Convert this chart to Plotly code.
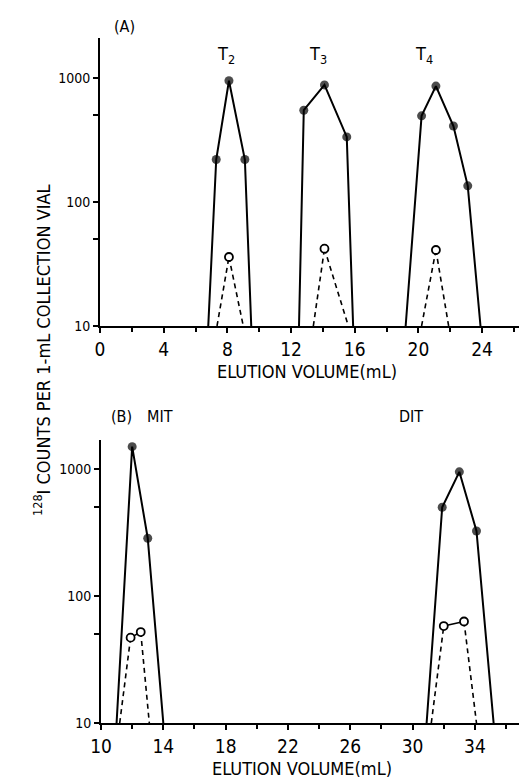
import plotly.graph_objects as go

# ---------------- data ----------------
# Panel A : T2, T3, T4 (filled = total, open = second series)
t2_x = [6.8, 7.3, 8.1, 9.1, 9.5]
t2_y = [10, 220, 950, 220, 10]
t2o_x = [7.35, 8.1, 9.0]
t2o_y = [10, 36, 10]

t3_x = [12.5, 12.8, 14.1, 15.5, 15.9]
t3_y = [10, 550, 880, 335, 10]
t3o_x = [13.4, 14.1, 15.6]
t3o_y = [10, 42, 10]

t4_x = [19.2, 20.2, 21.1, 22.2, 23.1, 23.9]
t4_y = [10, 495, 860, 410, 135, 10]
t4o_x = [20.2, 21.1, 21.9]
t4o_y = [10, 41, 10]

# Panel B : MIT, DIT
mit_x = [11.0, 12.0, 13.0, 14.0]
mit_y = [10, 1500, 285, 10]
mito_x = [11.2, 11.9, 12.55, 13.1]
mito_y = [10, 47, 52, 10]

dit_x = [30.9, 31.9, 33.0, 34.1, 35.2]
dit_y = [10, 500, 950, 325, 10]
dito_x = [31.2, 32.0, 33.3, 34.1]
dito_y = [10, 58, 63, 10]

xticks_a = [0, 4, 8, 12, 16, 20, 24]
xticks_b = [10, 14, 18, 22, 26, 30, 34]
yticks = [10, 100, 1000]
yticks_minor = [50, 500]

# page has an 8px body margin; figure sized so page == 527 x 780
OFF = 8
W, H = 527 - OFF, 780 - OFF
FONT = "DejaVu Sans Condensed, DejaVu Sans, sans-serif"

fig = go.Figure()


def filled(x, y, xa, ya):
    sizes = [0] + [9] * (len(x) - 2) + [0]
    fig.add_trace(go.Scatter(x=x, y=y, mode="lines+markers", xaxis=xa, yaxis=ya,
                             line=dict(color="black", width=2),
                             marker=dict(color="black", size=sizes,
                                         line=dict(color="black", width=0)),
                             showlegend=False, hoverinfo="skip"))


def opened(x, y, xa, ya):
    # dashed rising / falling legs, solid between interior open points
    fig.add_trace(go.Scatter(x=x[:2], y=y[:2], mode="lines", xaxis=xa, yaxis=ya,
                             line=dict(color="black", width=1.6, dash="5px,4px"),
                             showlegend=False, hoverinfo="skip"))
    fig.add_trace(go.Scatter(x=x[-2:], y=y[-2:], mode="lines", xaxis=xa, yaxis=ya,
                             line=dict(color="black", width=1.6, dash="5px,4px"),
                             showlegend=False, hoverinfo="skip"))
    if len(x) > 3:
        fig.add_trace(go.Scatter(x=x[1:-1], y=y[1:-1], mode="lines", xaxis=xa, yaxis=ya,
                                 line=dict(color="black", width=1.6),
                                 showlegend=False, hoverinfo="skip"))
    fig.add_trace(go.Scatter(x=x[1:-1], y=y[1:-1], mode="markers", xaxis=xa, yaxis=ya,
                             marker=dict(color="white", size=8,
                                         line=dict(color="black", width=1.8)),
                             showlegend=False, hoverinfo="skip"))


filled(t2_x, t2_y, "x", "y")
filled(t3_x, t3_y, "x", "y")
filled(t4_x, t4_y, "x", "y")
opened(t2o_x, t2o_y, "x", "y")
opened(t3o_x, t3o_y, "x", "y")
opened(t4o_x, t4o_y, "x", "y")

filled(mit_x, mit_y, "x2", "y2")
filled(dit_x, dit_y, "x2", "y2")
opened(mito_x, mito_y, "x2", "y2")
opened(dito_x, dito_y, "x2", "y2")


def py(p):
    return 1 - (p - OFF) / H


def px(p):
    return (p - OFF) / W


xa_common = dict(showgrid=False, zeroline=False, showline=True, linecolor="black",
                 linewidth=2, ticks="outside", ticklen=5, tickwidth=1.5,
                 automargin=False, ticklabelstandoff=0,
                 tickcolor="black", tickfont=dict(family=FONT, size=19, color="black"),
                 minor=dict(dtick=2, ticks="outside", ticklen=4, tickwidth=1.5,
                            tickcolor="black"))
ya_common = dict(type="log", showgrid=False, zeroline=False, showline=True,
                 linecolor="black", linewidth=2, ticks="outside", ticklen=5,
                 automargin=False,
                 tickwidth=1.5, tickcolor="black", tickvals=yticks,
                 ticktext=[str(v) for v in yticks],
                 minor=dict(tickvals=yticks_minor, ticks="outside", ticklen=5,
                            tickwidth=1.5, tickcolor="black"),
                 tickfont=dict(family=FONT, size=14, color="black"))

fig.update_layout(
    width=W, height=H,
    margin=dict(l=0, r=0, t=0, b=0, pad=0, autoexpand=False),
    paper_bgcolor="white", plot_bgcolor="white",
    xaxis=dict(domain=[px(100), 1], range=[0, (527 - 100) / 15.92],
               tickvals=xticks_a, anchor="y", **xa_common),
    yaxis=dict(domain=[py(326), py(38)], range=[1, 1 + 288 / 124], anchor="x",
               **ya_common),
    xaxis2=dict(domain=[px(101), 1], range=[10, 10 + (527 - 101) / 15.58],
                tickvals=xticks_b, anchor="y2", **xa_common),
    yaxis2=dict(domain=[py(723), py(440)], range=[1, 1 + 283 / 127], anchor="x2",
                **ya_common),
)

ann = []


def label(text, x, y, size=17, angle=0):
    ann.append(dict(text=text, x=px(x), y=py(y), xref="paper", yref="paper",
                    showarrow=False, xanchor="center", yanchor="middle",
                    textangle=angle, font=dict(family=FONT, size=size, color="black")))


label("(A)", 124, 27, 16)
label("T<sub>2</sub>", 226, 55, 18)
label("T<sub>3</sub>", 318, 55, 18)
label("T<sub>4</sub>", 424, 55, 18)
label("ELUTION VOLUME(mL)", 307, 371, 18)
label("(B)", 121, 416, 16)
label("MIT", 160, 416, 16)
label("DIT", 411, 416, 16)
label("ELUTION VOLUME(mL)", 302, 768, 18)
label("<sup>128</sup>I COUNTS PER 1-mL COLLECTION VIAL", 42, 350, 18, -90)

fig.update_layout(annotations=ann)

fig.write_html("out.html")
